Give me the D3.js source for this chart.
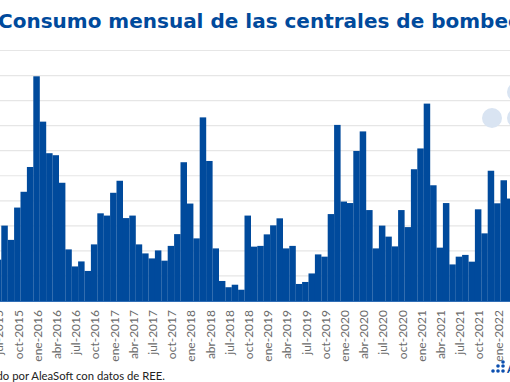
<!DOCTYPE html>
<html>
<head>
<meta charset="utf-8">
<script src="https://cdnjs.cloudflare.com/ajax/libs/d3/7.8.5/d3.min.js"></script>
<style>
  html, body { margin: 0; padding: 0; background: #fff; overflow: hidden; }
  svg { display: block; }
</style>
</head>
<body>
<svg id="chart" width="510" height="382"></svg>
<script>
const categories = [
  "jul-2015","ago-2015","sep-2015","oct-2015","nov-2015","dic-2015",
  "ene-2016","feb-2016","mar-2016","abr-2016","may-2016","jun-2016","jul-2016","ago-2016","sep-2016","oct-2016","nov-2016","dic-2016",
  "ene-2017","feb-2017","mar-2017","abr-2017","may-2017","jun-2017","jul-2017","ago-2017","sep-2017","oct-2017","nov-2017","dic-2017",
  "ene-2018","feb-2018","mar-2018","abr-2018","may-2018","jun-2018","jul-2018","ago-2018","sep-2018","oct-2018","nov-2018","dic-2018",
  "ene-2019","feb-2019","mar-2019","abr-2019","may-2019","jun-2019","jul-2019","ago-2019","sep-2019","oct-2019","nov-2019","dic-2019",
  "ene-2020","feb-2020","mar-2020","abr-2020","may-2020","jun-2020","jul-2020","ago-2020","sep-2020","oct-2020","nov-2020","dic-2020",
  "ene-2021","feb-2021","mar-2021","abr-2021","may-2021","jun-2021","jul-2021","ago-2021","sep-2021","oct-2021","nov-2021","dic-2021",
  "ene-2022","feb-2022","mar-2022"
]
const consumo = [
  165,301,244,373,436,535,
  897,716,590,582,472,206,138,158,120,226,350,341,
  432,480,331,341,226,190,170,202,161,220,267,554,
  389,250,733,559,210,80,55,65,45,341,217,220,
  266,302,330,210,220,68,76,110,186,177,347,703,
  397,391,599,677,363,210,301,257,218,363,295,526,
  609,788,462,213,391,146,177,184,157,366,270,520,
  390,482,409
]
const tickLabels = categories.filter((d, i) => i % 3 === 0)
const gridValues = [100,200,300,400,500,600,700,800,900,1000]

const blue = "#004a9c"
const svg = d3.select("#chart")

const margin = { left: -5.1, right: 513.3, top: 50.5, bottom: 301 }

const xScale = d3.scaleBand()
  .domain(categories)
  .range([margin.left, margin.right])
  .padding(0)

const yScale = d3.scaleLinear()
  .domain([0, 1000])
  .range([margin.bottom, margin.top])

// gridlines
svg.append("g")
  .selectAll("line")
  .data(gridValues)
  .enter()
  .append("line")
    .attr("x1", 0)
    .attr("x2", 510)
    .attr("y1", d => yScale(d))
    .attr("y2", d => yScale(d))
    .attr("stroke", "#e6e6e6")
    .attr("stroke-width", 1.2)

// watermark circles of the logo
const markX = [492, 517, 517]
const markY = [118, 118, 92]
svg.append("g")
  .selectAll("circle")
  .data(markX)
  .enter()
  .append("circle")
    .attr("cx", d => d)
    .attr("cy", (d, i) => markY[i])
    .attr("r", 10)
    .attr("fill", "#d9e4f2")

// bars
svg.append("g")
  .selectAll("rect")
  .data(consumo)
  .enter()
  .append("rect")
    .attr("x", (d, i) => xScale(categories[i]))
    .attr("y", d => yScale(d))
    .attr("width", xScale.bandwidth() + 0.1)
    .attr("height", d => yScale(0) - yScale(d))
    .attr("fill", blue)

// x axis
const xAxis = d3.axisBottom(xScale)
  .tickValues(tickLabels)
  .tickSize(0)
  .tickPadding(0)

const axisGroup = svg.append("g")
  .attr("transform", `translate(0, ${margin.bottom})`)
  .call(xAxis)

axisGroup.select(".domain")
  .attr("stroke", "#2f6db5")
  .attr("stroke-width", 1)

axisGroup.selectAll("text")
  .attr("transform", "rotate(-90)")
  .attr("x", -9)
  .attr("y", 1.5)
  .attr("dy", "0.32em")
  .style("text-anchor", "end")
  .attr("fill", "#6b6b6b")
  .attr("font-size", "12px")
  .attr("font-family", "Lato, sans-serif")

// title
svg.append("text")
  .attr("x", -2)
  .attr("y", 28)
  .text("Consumo mensual de las centrales de bombeo")
  .attr("fill", blue)
  .attr("font-size", "20px")
  .attr("font-weight", "700")
  .attr("font-family", "'DejaVu Sans', sans-serif")

// source
svg.append("text")
  .attr("x", 165)
  .attr("y", 380)
  .text("Elaborado por AleaSoft con datos de REE.")
  .attr("text-anchor", "end")
  .attr("fill", "#222")
  .attr("font-size", "11.3px")
  .attr("font-family", "Lato, sans-serif")

// small logo bottom right
const logoX = [503, 498, 503, 493, 498, 503]
const logoY = [362, 366, 366, 371, 371, 371]
svg.append("g")
  .selectAll("circle")
  .data(logoX)
  .enter()
  .append("circle")
    .attr("cx", d => d)
    .attr("cy", (d, i) => logoY[i])
    .attr("r", 1.8)
    .attr("fill", "#0b4fb0")

svg.append("text")
  .attr("x", 507)
  .attr("y", 373)
  .text("A")
  .attr("fill", blue)
  .attr("font-size", "11px")
  .attr("font-weight", "700")
  .attr("font-family", "Lato, sans-serif")
</script>
</body>
</html>
